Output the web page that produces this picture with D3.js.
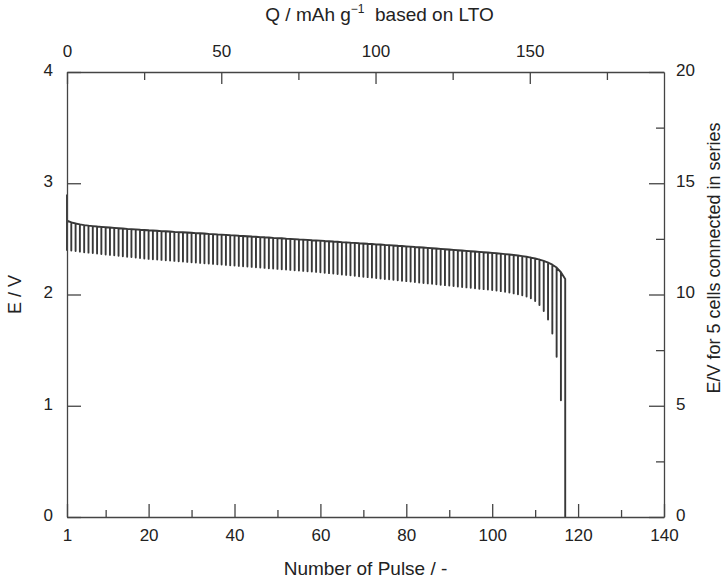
<!DOCTYPE html>
<html>
<head>
<meta charset="utf-8">
<script src="https://cdn.jsdelivr.net/npm/d3@7"></script>
<style>
  body { margin: 0; background: #fff; }
  svg text { font-family: "Liberation Sans", Arial, sans-serif; fill: #222; }
  .axis path, .axis line { stroke: #444; stroke-width: 1.3; }
</style>
</head>
<body>
<div id="chart"></div>
<script>
// pulse numbers 1..117, open-circuit start, rest (tooth top) and loaded (tooth bottom) voltages
const ocvStart = 2.90;
const restV = [
  2.665, 2.648, 2.638, 2.630, 2.624, 2.619, 2.615, 2.611, 2.608, 2.605,
  2.602, 2.599, 2.596, 2.593, 2.590, 2.588, 2.585, 2.582, 2.580, 2.577,
  2.575, 2.573, 2.570, 2.568, 2.566, 2.563, 2.561, 2.559, 2.557, 2.555,
  2.552, 2.550, 2.548, 2.545, 2.543, 2.540, 2.538, 2.536, 2.533, 2.531,
  2.528, 2.526, 2.524, 2.521, 2.519, 2.516, 2.514, 2.512, 2.509, 2.507,
  2.505, 2.502, 2.500, 2.498, 2.495, 2.493, 2.491, 2.488, 2.486, 2.484,
  2.481, 2.479, 2.476, 2.474, 2.471, 2.469, 2.466, 2.464, 2.461, 2.459,
  2.456, 2.454, 2.451, 2.449, 2.446, 2.444, 2.441, 2.438, 2.436, 2.433,
  2.430, 2.427, 2.425, 2.422, 2.419, 2.416, 2.413, 2.410, 2.407, 2.404,
  2.401, 2.398, 2.395, 2.392, 2.389, 2.386, 2.383, 2.380, 2.377, 2.374,
  2.371, 2.367, 2.363, 2.359, 2.355, 2.350, 2.345, 2.339, 2.332, 2.324,
  2.314, 2.302, 2.287, 2.268, 2.242, 2.200, 2.140
];
const loadV = [
  2.400, 2.395, 2.390, 2.385, 2.380, 2.376, 2.372, 2.368, 2.364, 2.360,
  2.356, 2.352, 2.348, 2.344, 2.340, 2.336, 2.332, 2.328, 2.324, 2.320,
  2.317, 2.314, 2.311, 2.308, 2.305, 2.302, 2.299, 2.296, 2.293, 2.290,
  2.287, 2.284, 2.281, 2.278, 2.275, 2.272, 2.269, 2.266, 2.263, 2.260,
  2.257, 2.254, 2.251, 2.248, 2.245, 2.242, 2.239, 2.236, 2.233, 2.230,
  2.227, 2.224, 2.221, 2.218, 2.215, 2.212, 2.209, 2.206, 2.203, 2.200,
  2.196, 2.192, 2.188, 2.184, 2.180, 2.176, 2.172, 2.168, 2.164, 2.160,
  2.156, 2.152, 2.148, 2.144, 2.140, 2.136, 2.132, 2.128, 2.124, 2.120,
  2.116, 2.112, 2.108, 2.104, 2.100, 2.096, 2.092, 2.088, 2.084, 2.080,
  2.076, 2.072, 2.068, 2.064, 2.060, 2.056, 2.052, 2.048, 2.044, 2.040,
  2.035, 2.030, 2.025, 2.018, 2.010, 2.002, 1.993, 1.982, 1.966, 1.942,
  1.905, 1.852, 1.775, 1.650, 1.440, 1.050, 0.000
];

const pulseTicks = [1, 20, 40, 60, 80, 100, 120, 140];
const pulseMinor = [10, 30, 50, 70, 90, 110, 130];
const capTicks = [0, 50, 100, 150];
const capMinor = [25, 75, 125, 175];
const eTicks = [0, 1, 2, 3, 4];
const eSeriesTicks = [0, 5, 10, 15, 20];
const eSeriesMinor = [2.5, 7.5, 12.5, 17.5];

const width = 728, height = 579;
const margin = { top: 72, right: 64, bottom: 62, left: 67 };
const w = width - margin.left - margin.right;
const h = height - margin.top - margin.bottom;

const svg = d3.select("#chart").append("svg")
    .attr("width", width)
    .attr("height", height);

const g = svg.append("g")
    .attr("transform", `translate(${margin.left},${margin.top})`);

const x = d3.scaleLinear().domain([1, 140]).range([0, w]);
const xTop = d3.scaleLinear().domain([0, 193.5]).range([0, w]);
const y = d3.scaleLinear().domain([0, 4]).range([h, 0]);
const yRight = d3.scaleLinear().domain([0, 20]).range([h, 0]);

// build the pulse trace: drop to load voltage at each pulse, recover to rest
const pts = [[1, ocvStart]];
restV.forEach((r, i) => {
    const n = i + 1;
    pts.push([n, r]);
    pts.push([n, loadV[i]]);
    if (i < restV.length - 1) pts.push([n, r]);
});

const line = d3.line()
    .x(d => x(d[0]))
    .y(d => y(d[1]));

g.append("path")
    .datum(pts)
    .attr("fill", "none")
    .attr("stroke", "#383838")
    .attr("stroke-width", 1.9)
    .attr("stroke-linejoin", "round")
    .attr("d", line);

// axes, ticks pointing inward
const tickFont = "17px";
const titleFont = "19px";

function styleAxis(sel) {
    sel.selectAll("text").style("font-size", tickFont);
}

g.append("g").attr("class", "axis")
    .attr("transform", `translate(0,${h})`)
    .call(d3.axisBottom(x).tickValues(pulseTicks).tickSizeInner(-13).tickSizeOuter(0).tickPadding(12))
    .call(styleAxis);
g.append("g").attr("class", "axis")
    .attr("transform", `translate(0,${h})`)
    .call(d3.axisBottom(x).tickValues(pulseMinor).tickSizeInner(-7).tickSizeOuter(0).tickFormat(""))
    .call(s => s.select(".domain").remove());

g.append("g").attr("class", "axis")
    .call(d3.axisTop(xTop).tickValues(capTicks).tickSizeInner(-12).tickSizeOuter(0).tickPadding(15))
    .call(styleAxis);
g.append("g").attr("class", "axis")
    .call(d3.axisTop(xTop).tickValues(capMinor).tickSizeInner(-8).tickSizeOuter(0).tickFormat(""))
    .call(s => s.select(".domain").remove());

g.append("g").attr("class", "axis")
    .call(d3.axisLeft(y).tickValues(eTicks).tickFormat(d3.format("d"))
        .tickSizeInner(-14).tickSizeOuter(0).tickPadding(14))
    .call(styleAxis)
    .call(s => s.selectAll("text").attr("dy", "0.2em"));

g.append("g").attr("class", "axis")
    .attr("transform", `translate(${w},0)`)
    .call(d3.axisRight(yRight).tickValues(eSeriesTicks).tickSizeInner(-15).tickSizeOuter(0).tickPadding(12))
    .call(styleAxis)
    .call(s => s.selectAll("text").attr("dy", "0.2em"));
g.append("g").attr("class", "axis")
    .attr("transform", `translate(${w},0)`)
    .call(d3.axisRight(yRight).tickValues(eSeriesMinor).tickSizeInner(-8).tickSizeOuter(0).tickFormat(""))
    .call(s => s.select(".domain").remove());

// titles
svg.append("text")
    .attr("x", margin.left + w / 2)
    .attr("y", 575)
    .attr("text-anchor", "middle")
    .style("font-size", titleFont)
    .text("Number of Pulse / -");

const topTitle = svg.append("text")
    .attr("x", margin.left + w / 2 + 14)
    .attr("y", 21)
    .attr("text-anchor", "middle")
    .style("font-size", titleFont);
topTitle.append("tspan").text("Q / mAh g");
topTitle.append("tspan").attr("dy", -8).style("font-size", "12px").text("\u22121");
topTitle.append("tspan").attr("dy", 8).text("\u00a0\u00a0based on LTO");

svg.append("text")
    .attr("transform", `translate(21,${margin.top + y(2)}) rotate(-90)`)
    .attr("text-anchor", "middle")
    .style("font-size", "18px")
    .text("E / V");

svg.append("text")
    .attr("transform", `translate(720,258) rotate(-90)`)
    .attr("text-anchor", "middle")
    .style("font-size", "18px")
    .text("E/V for 5 cells connected in series");
</script>
</body>
</html>
